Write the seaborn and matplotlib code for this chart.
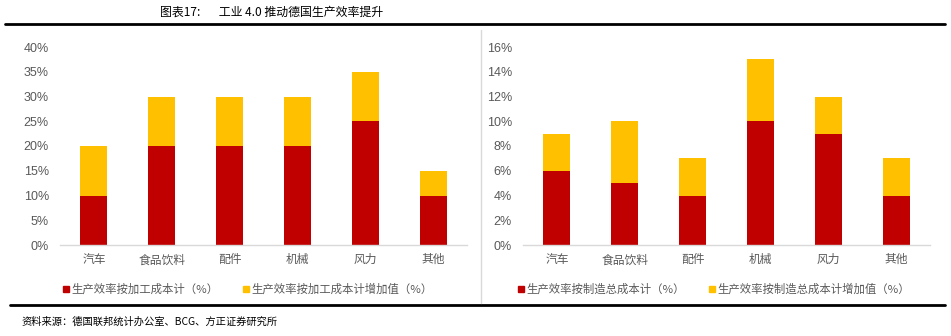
import matplotlib
matplotlib.use("Agg")
import matplotlib.pyplot as plt
import seaborn as sns
import numpy as np
import pandas as pd
from matplotlib.lines import Line2D
from matplotlib.ticker import PercentFormatter

categories = ["汽车", "食品饮料", "配件", "机械", "风力", "其他"]
left_base = [10, 20, 20, 20, 25, 10]
left_add = [10, 10, 10, 10, 10, 5]
right_base = [6, 5, 4, 10, 9, 4]
right_add = [3, 5, 3, 5, 3, 3]
left_labels = ["生产效率按加工成本计（%）", "生产效率按加工成本计增加值（%）"]
right_labels = ["生产效率按制造总成本计（%）", "生产效率按制造总成本计增加值（%）"]
title_text = "图表17:       工业 4.0 推动德国生产效率提升"
source_text = "资料来源：德国联邦统计办公室、BCG、方正证券研究所"

sns.set_theme(style="white")
plt.rcParams['font.family'] = ['Liberation Sans', 'Noto Sans CJK SC', 'DejaVu Sans']

RED = "#C00000"
YEL = "#FFC000"
GRAY = "#595959"
W, H = 951, 336

fig = plt.figure(figsize=(W / 100, H / 100), dpi=100)

def make_axes(x0, x1, y_top, y_bot):
    return fig.add_axes([x0 / W, (H - y_bot) / H, (x1 - x0) / W, (y_bot - y_top) / H])

def draw(ax, base, add, ymax, step):
    df = pd.DataFrame({"cat": categories, "base": base, "add": add})
    df["total"] = df["base"] + df["add"]
    sns.barplot(data=df, x="cat", y="total", color=YEL, saturation=1, width=0.4, ax=ax,
                linewidth=0, edgecolor="none")
    sns.barplot(data=df, x="cat", y="base", color=RED, saturation=1, width=0.4, ax=ax,
                linewidth=0, edgecolor="none")
    ax.set_ylim(0, ymax)
    ax.set_yticks(np.arange(0, ymax + 0.001, step))
    ax.yaxis.set_major_formatter(PercentFormatter(decimals=0))
    ax.set_xlim(-0.5, len(categories) - 0.5)
    ax.set_xlabel("")
    ax.set_ylabel("")
    for s in ["top", "right", "left"]:
        ax.spines[s].set_visible(False)
    ax.spines["bottom"].set_color("#D9D9D9")
    ax.spines["bottom"].set_linewidth(1)
    ax.tick_params(axis="both", length=0, colors=GRAY, labelsize=8.5)
    ax.tick_params(axis="x", pad=6)
    ax.tick_params(axis="y", pad=8)
    for t in ax.get_yticklabels():
        t.set_family(['Liberation Sans', 'DejaVu Sans'])
        t.set_fontsize(9)
    for t in ax.get_xticklabels():
        t.set_family(['Noto Sans CJK SC', 'DejaVu Sans'])
        t.set_fontsize(8.5)
    ax.grid(False)

axL = make_axes(60, 467, 47, 245)
draw(axL, left_base, left_add, 40, 5)
axR = make_axes(523, 930, 47, 245)
draw(axR, right_base, right_add, 16, 2)

def legend(labels, x, y):
    handles = [Line2D([], [], marker="s", linestyle="none", markersize=4.5, color=c) for c in (RED, YEL)]
    fig.legend(handles, labels, loc="center", bbox_to_anchor=(x / W, (H - y) / H), ncol=2,
               frameon=False, handletextpad=0.05, columnspacing=2.0, handlelength=0.8,
               prop={"family": ['Noto Sans CJK SC', 'DejaVu Sans'], "size": 8.2},
               labelcolor=GRAY)

legend(left_labels, 247, 289)
legend(right_labels, 713, 289)

# rules and separator
fig.add_artist(Line2D([5 / W, 945 / W], [(H - 24) / H] * 2, color="black", lw=2))
fig.add_artist(Line2D([10 / W, 945 / W], [(H - 305) / H] * 2, color="black", lw=2))
fig.add_artist(Line2D([481 / W] * 2, [(H - 30) / H, (H - 303) / H], color="#D9D9D9", lw=1))

fig.text(160 / W, (H - 12) / H, title_text, ha="left", va="center", fontsize=8.6,
         family=['Noto Sans CJK SC', 'DejaVu Sans'], color="black")
fig.text(22 / W, (H - 322) / H, source_text, ha="left", va="center", fontsize=7.4,
         family=['Noto Sans CJK SC', 'DejaVu Sans'], color="black", style="italic")

fig.savefig("out.png", dpi=100)
